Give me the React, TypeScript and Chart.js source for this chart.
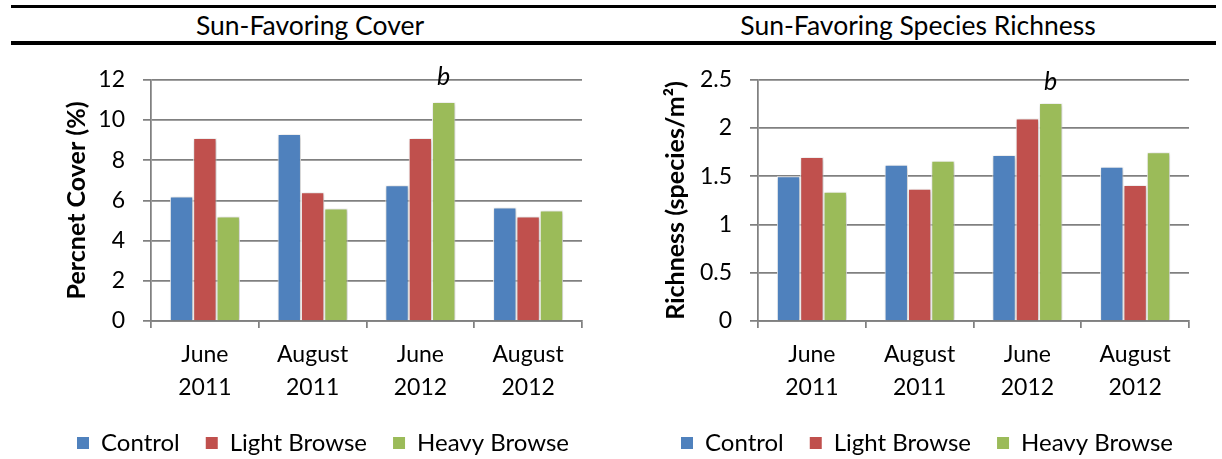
import React, { useEffect, useRef } from "react";
import { Chart, registerables } from "chart.js";

Chart.register(...registerables);

// ---- data ----
const categories: string[][] = [
  ["June", "2011"],
  ["August", "2011"],
  ["June", "2012"],
  ["August", "2012"],
];
const seriesNames = ["Control", "Light Browse", "Heavy Browse"];
const seriesColors = ["#4F81BD", "#C0504D", "#9BBB59"];

const coverControl = [6.2, 9.3, 6.75, 5.65];
const coverLight = [9.1, 6.4, 9.1, 5.2];
const coverHeavy = [5.2, 5.6, 10.9, 5.5];
const coverHeavyNotes = ["", "", "b", ""];
const coverTickLabels = ["0", "2", "4", "6", "8", "10", "12"];

const richControl = [1.5, 1.62, 1.72, 1.6];
const richLight = [1.7, 1.37, 2.1, 1.41];
const richHeavy = [1.34, 1.66, 2.26, 1.75];
const richHeavyNotes = ["", "", "b", ""];
const richTickLabels = ["0", "0.5", "1", "1.5", "2", "2.5"];

const coverAxis = { min: 0, max: 12, step: 2, title: "Percnet Cover (%)", labels: coverTickLabels };
const richAxis = { min: 0, max: 2.5, step: 0.5, title: "Richness (species/m\u00B2)", labels: richTickLabels };

const FONT = "Lato";
const GRID = "#808080";
const GRID_W = 1.75;
const CANVAS_H = 417;

type Cfg = {
  left: number;
  values: number[][];
  notes: string[];
  axis: { min: number; max: number; step: number; title: string; labels: string[] };
  padLeft: number;
  padRight: number;
  padTop: number;
  yWidth: number;
  rightWidth: number;
  titlePad: number;
  noteOffset: number;
};

function BarChart({ cfg }: { cfg: Cfg }) {
  const ref = useRef<HTMLCanvasElement>(null);
  useEffect(() => {
    const notePlugin = {
      id: "shadowAndNotes",
      beforeDatasetsDraw(chart: any) {
        const ctx = chart.ctx;
        ctx.save();
        ctx.shadowColor = "rgba(0,0,0,0.28)";
        ctx.shadowBlur = 4;
        ctx.shadowOffsetX = 1;
        ctx.shadowOffsetY = 1;
      },
      afterDatasetsDraw(chart: any) {
        const ctx = chart.ctx;
        ctx.restore();
        const meta = chart.getDatasetMeta(2);
        ctx.save();
        ctx.font = `italic 25px ${FONT}`;
        ctx.fillStyle = "#000";
        ctx.textAlign = "center";
        ctx.textBaseline = "alphabetic";
        cfg.notes.forEach((n, i) => {
          if (!n) return;
          const el = meta.data[i];
          ctx.fillText(n, el.x, el.y - cfg.noteOffset);
        });
        ctx.restore();
      },
    };

    const chart = new Chart(ref.current!, {
      type: "bar",
      data: {
        labels: categories,
        datasets: cfg.values.map((v, i) => ({
          label: seriesNames[i],
          data: v,
          backgroundColor: seriesColors[i],
          borderColor: "#ffffff",
          borderWidth: 1,
          barPercentage: 1,
          categoryPercentage: 0.65,
        })),
      },
      options: {
        responsive: false,
        animation: false,
        devicePixelRatio: 1,
        layout: {
          padding: { left: cfg.padLeft, right: cfg.padRight, top: cfg.padTop, bottom: 0 },
        },
        plugins: {
          tooltip: { enabled: false },
          legend: {
            position: "bottom",
            labels: {
              font: { family: FONT, size: 24 },
              color: "#000",
              boxWidth: 12,
              boxHeight: 12,
              padding: 26,
              generateLabels: (c: any) =>
                Chart.defaults.plugins.legend.labels.generateLabels(c).map((l: any) => ({
                  ...l,
                  strokeStyle: l.fillStyle,
                  lineWidth: 0,
                })),
            },
          },
        },
        scales: {
          x: {
            grid: {
              drawOnChartArea: false,
              drawTicks: true,
              tickLength: 7,
              color: GRID,
              lineWidth: GRID_W,
              offset: true,
            },
            border: { color: GRID, width: GRID_W },
            ticks: {
              font: { family: FONT, size: 23, lineHeight: 1.43 },
              color: "#000",
              padding: 10,
              maxRotation: 0,
              autoSkip: false,
            },
            afterFit: (s: any) => {
              s.height = 84;
            },
          },
          y: {
            min: cfg.axis.min,
            max: cfg.axis.max,
            grid: {
              color: GRID,
              lineWidth: GRID_W,
              tickLength: 8,
              drawTicks: true,
            },
            border: { color: GRID, width: GRID_W },
            ticks: {
              stepSize: cfg.axis.step,
              font: { family: FONT, size: 23 },
              color: "#000",
              padding: 18,
              callback: (_v: any, i: number) => cfg.axis.labels[i],
            },
            title: {
              display: true,
              text: cfg.axis.title,
              color: "#000",
              font: { family: FONT, size: 25, weight: "bold", lineHeight: 1 },
              padding: { top: cfg.titlePad, bottom: 0 },
            },
            afterFit: (s: any) => {
              s.width = cfg.yWidth;
            },
          },
          spacer: {
            type: "linear",
            position: "right",
            display: true,
            grid: { display: false },
            border: { display: false },
            ticks: { display: false },
            afterFit: (s: any) => {
              s.width = cfg.rightWidth;
            },
          },
        },
      },
      plugins: [notePlugin],
    } as any);
    return () => chart.destroy();
  }, []);
  return (
    <canvas
      ref={ref}
      width={611}
      height={CANVAS_H}
      style={{ position: "absolute", left: cfg.left, top: 48, width: 611, height: CANVAS_H }}
    />
  );
}

const leftCfg: Cfg = {
  left: 0,
  values: [coverControl, coverLight, coverHeavy],
  notes: coverHeavyNotes,
  axis: coverAxis,
  padLeft: 44,
  padRight: 9,
  padTop: 31,
  yWidth: 107,
  rightWidth: 20,
  titlePad: 20.5,
  noteOffset: 17,
};

const rightCfg: Cfg = {
  left: 611,
  values: [richControl, richLight, richHeavy],
  notes: richHeavyNotes,
  axis: richAxis,
  padLeft: 34,
  padRight: 13,
  padTop: 30,
  yWidth: 113,
  rightWidth: 20,
  titlePad: 18.5,
  noteOffset: 13,
};

export default function App() {
  return (
    <div
      style={{
        position: "absolute",
        left: 0,
        top: 0,
        width: 1222,
        height: 459,
        overflow: "hidden",
        background: "#fff",
        fontFamily: FONT,
      }}
    >
      <div
        style={{
          position: "absolute",
          left: 11,
          top: 5,
          width: 1205,
          height: 33,
          borderTop: "3px solid #000",
          borderBottom: "4px solid #000",
        }}
      />
      <div
        style={{
          position: "absolute",
          left: 10,
          top: 9,
          width: 600,
          height: 33,
          lineHeight: "33px",
          textAlign: "center",
          fontSize: 26.5,
          color: "#000",
        }}
      >
        Sun-Favoring Cover
      </div>
      <div
        style={{
          position: "absolute",
          left: 618,
          top: 9,
          width: 600,
          height: 33,
          lineHeight: "33px",
          textAlign: "center",
          fontSize: 26.5,
          color: "#000",
        }}
      >
        Sun-Favoring Species Richness
      </div>
      <BarChart cfg={leftCfg} />
      <BarChart cfg={rightCfg} />
    </div>
  );
}
